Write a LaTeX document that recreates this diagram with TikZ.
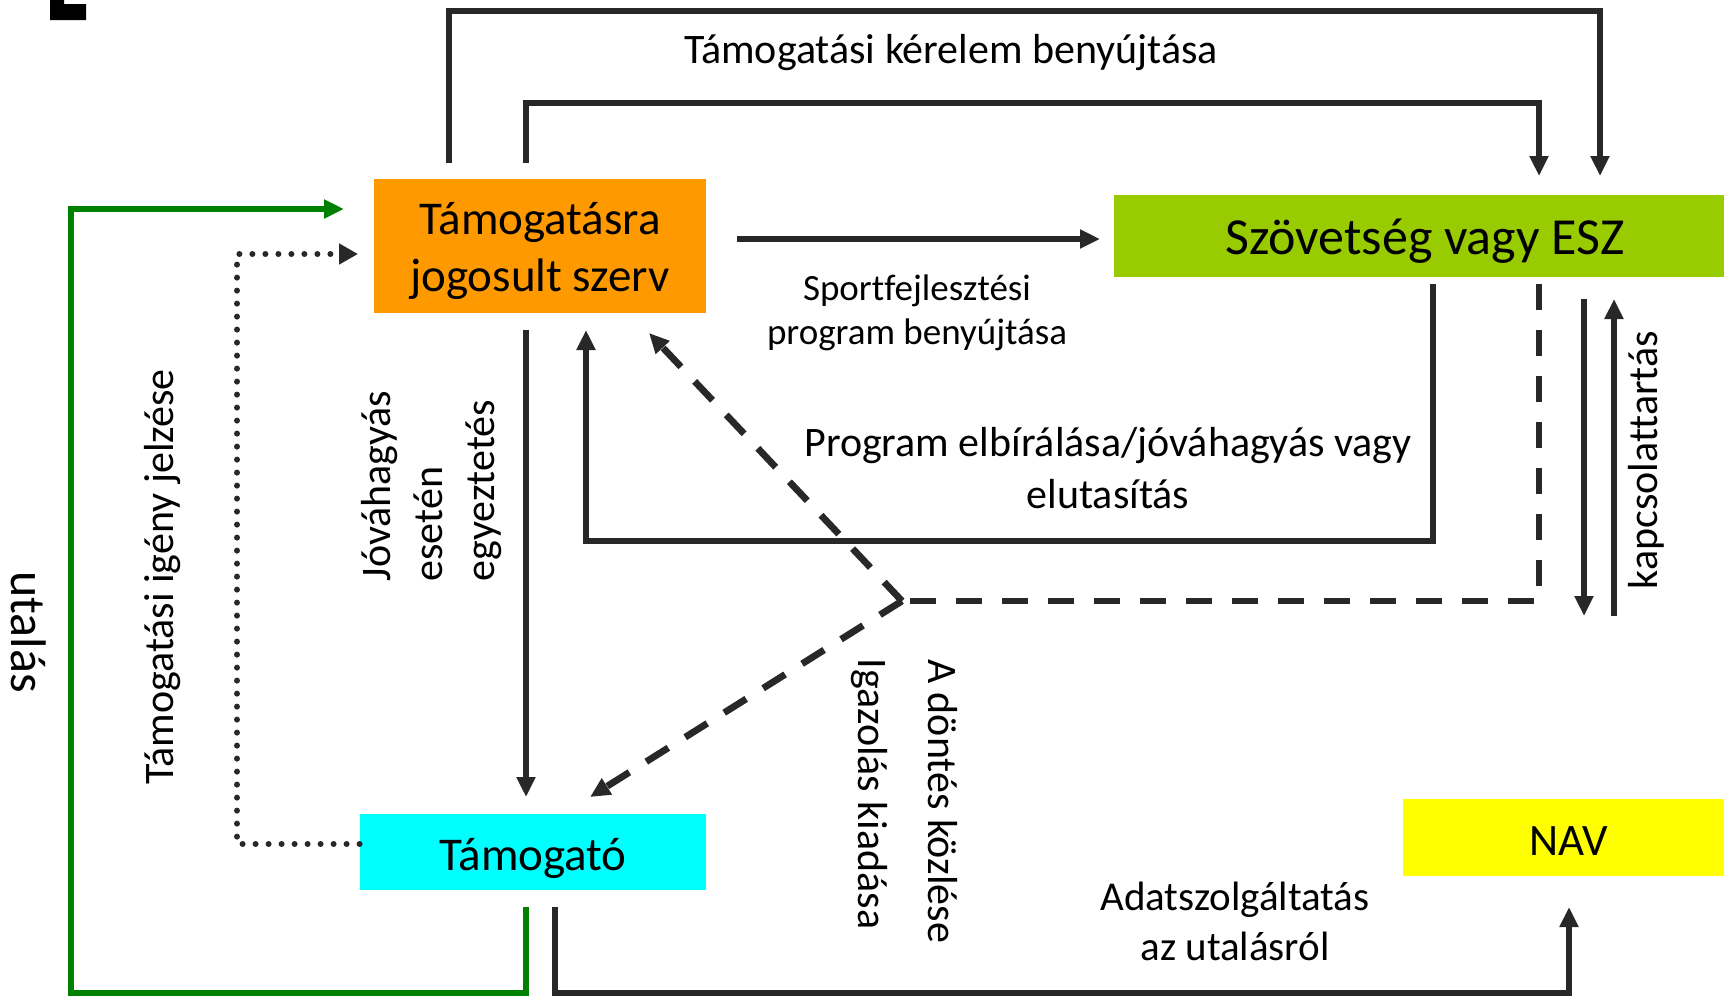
\documentclass[tikz,border=0pt]{standalone}
\usepackage{fontspec}
\setmainfont{Carlito}[Ligatures=NoCommon]
\usetikzlibrary{arrows.meta}
\definecolor{ln}{RGB}{40,40,40}
\definecolor{orbox}{RGB}{255,153,0}
\definecolor{grbox}{RGB}{153,204,0}
\definecolor{cybox}{RGB}{0,255,255}
\definecolor{ylbox}{RGB}{255,255,0}
\definecolor{grline}{RGB}{0,128,0}
\begin{document}
\begin{tikzpicture}[x=0.5pt,y=-0.5pt,
  conn/.style={draw=ln,line width=3.4pt},
  arr/.style={conn,-{Triangle[length=10pt,width=9pt]}},
  dsh/.style={dash pattern=on 13pt off 10pt},
  lbl/.style={font=\fontsize{21}{26}\selectfont, align=center, inner sep=0pt},
  boxt/.style={inner sep=0pt, align=center}
]
\useasboundingbox (0,0) rectangle (1724,997);
\fill[black] (50,0) -- (64,0) -- (64,4) -- (86,4) -- (86,20) -- (50,20) -- cycle;

% boxes
\node[boxt, fill=orbox, minimum width=166pt, minimum height=67pt,
  font=\fontsize{23.5}{28.5}\selectfont] (O) at (540,246) {};
\node[boxt, font=\fontsize{23.5}{28.5}\selectfont] (Ot) at (540,251) {Támogatásra\\jogosult szerv};
\node[boxt, fill=grbox, minimum width=311pt, minimum height=41pt] (G) at (1425,236) {};
\node[boxt, font=\fontsize{26}{30}\selectfont] (Gt) at (1425,241) {Szövetség vagy ESZ};
\node[boxt, fill=cybox, minimum width=173pt, minimum height=38pt] (C) at (533,852) {};
\node[boxt, font=\fontsize{23.5}{28.5}\selectfont] (Ct) at (533,858) {Támogató};
\node[boxt, fill=ylbox, minimum width=166pt, minimum height=38.5pt] (N) at (1569,837.5) {};
\node[boxt, font=\fontsize{22.5}{27}\selectfont] (Nt) at (1569,841) {NAV};

% coordinates
\coordinate (a1) at (449,163); \coordinate (a2) at (449,11);
\coordinate (a3) at (1600,11); \coordinate (a4) at (1600,176);
\coordinate (b1) at (526,163); \coordinate (b2) at (526,103);
\coordinate (b3) at (1539,103); \coordinate (b4) at (1539,176);
\coordinate (c1) at (737,239); \coordinate (c2) at (1100,239);
\coordinate (d1) at (1433,284); \coordinate (d2) at (1433,541);
\coordinate (d3) at (586,541); \coordinate (d4) at (586,330);
\coordinate (e1) at (526,330); \coordinate (e2) at (526,797);
\coordinate (hub) at (902,601);
\coordinate (f1) at (1539,284); \coordinate (f2) at (1539,601);
\coordinate (f3) at (649,333); \coordinate (f4) at (590,797);
\coordinate (k1) at (1584,299); \coordinate (k2) at (1584,616);
\coordinate (k3) at (1614,616); \coordinate (k4) at (1614,299);
\coordinate (g1) at (526,907); \coordinate (g2) at (526,993);
\coordinate (g3) at (71,993); \coordinate (g4) at (71,209);
\coordinate (g5) at (344,209);
\coordinate (h2) at (237,844); \coordinate (h3) at (237,254);
\coordinate (h4) at (358,254);
\coordinate (n1) at (555,907); \coordinate (n2) at (555,993);
\coordinate (n3) at (1569,993); \coordinate (n4) at (1569,907);

% connectors
\draw[arr] (a1) -- (a2) -- (a3) -- (a4);
\draw[arr] (b1) -- (b2) -- (b3) -- (b4);
\draw[arr] (c1) -- (c2);
\draw[arr] (d1) -- (d2) -- (d3) -- (d4);
\draw[arr] (e1) -- (e2);
\draw[conn, dsh] (f1) -- (f2) -- (hub);
\draw[arr, dsh] (hub) -- (f3);
\draw[arr, dsh] (hub) -- (f4);
\draw[arr] (k1) -- (k2);
\draw[arr] (k3) -- (k4);
\draw[draw=grline, line width=3pt, -{Triangle[length=10pt,width=9pt,fill=grline]}] (g1) -- (g2) -- (g3) -- (g4) -- (g5);
\draw[draw=ln, line width=3pt, line cap=round, dash pattern=on 0pt off 6.5pt,
  -{Triangle[length=9.5pt,width=10pt]}] (C.west |- h2) -- (h2) -- (h3) -- (h4);
\draw[arr] (n1) -- (n2) -- (n3) -- (n4);

% labels
\node[lbl] (l1) at (951,53) {Támogatási kérelem benyújtása};
\node[lbl, font=\fontsize{18.5}{22}\selectfont] (l2) at (917,313) {Sportfejlesztési\\program benyújtása};
\node[lbl] (l3) at (1108,468) {Program elbírálása/jóváhagyás vagy\\elutasítás};
\node[lbl, font=\fontsize{20.5}{25}\selectfont] (l4) at (1235,921) {Adatszolgáltatás\\az utalásról};
\node[lbl, align=left, rotate=90] (l5) at (432,486) {Jóváhagyás\\esetén\\egyeztetés};
\node[lbl, rotate=90] (l6) at (163,577) {Támogatási igény jelzése};
\node[lbl, font=\fontsize{25}{30}\selectfont, rotate=-90] (l7) at (29,632) {utalás};
\node[lbl, rotate=90] (l8) at (1646,460) {kapcsolattartás};
\node[lbl, rotate=-90] (l9) at (943,801) {A döntés közlése};
\node[lbl, rotate=-90] (l10) at (869,794) {Igazolás kiadása};
\end{tikzpicture}
\end{document}
